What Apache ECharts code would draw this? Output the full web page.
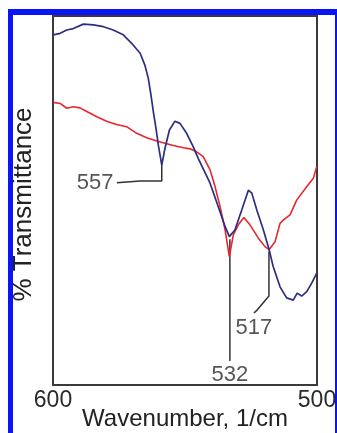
<!DOCTYPE html>
<html>
<head>
<meta charset="utf-8">
<script src="https://cdn.jsdelivr.net/npm/echarts@6/dist/echarts.min.js"></script>
<style>
html,body{margin:0;padding:0;background:#fff;overflow:hidden;}
#frame{position:absolute;left:8px;top:9px;width:333px;height:500px;box-sizing:border-box;border:6px solid #0a14f5;border-left-width:5px;}
#chart{position:absolute;left:0;top:0;width:337px;height:433px;}
</style>
</head>
<body>
<div id="frame"></div>
<div id="chart"></div>
<script>
// Wavenumber (1/cm) and % transmittance (relative units)
const blueX = [599.9,597.3,594.8,592.3,588.5,584.7,580.9,577.2,573.4,570.2,567.0,565.2,563.9,562.9,562.0,561.0,560.1,558.8,557.6,555.9,553.8,551.9,549.4,546.9,545.0,544.3,540.5,537.4,534.8,533.2,531.1,528.5,526.0,524.7,522.8,520.3,518.1,516.6,514.0,511.5,509.0,507.5,505.8,503.9,502.0,500.1];
const blueY = [94.9,95.3,96.2,96.6,97.8,97.6,97.1,96.2,94.9,92.6,89.9,86.7,83.1,78.6,74.1,69.6,65.0,59.6,64.1,69.1,71.5,70.9,68.2,64.6,61.4,61.0,54.7,48.3,42.9,40.2,42.0,47.4,52.8,52.0,47.4,42.0,36.6,32.1,26.6,23.6,23.0,24.9,24.1,25.3,27.6,30.3];
const redX = [599.9,597.3,594.8,592.3,589.8,587.2,583.4,579.7,575.9,572.1,568.3,564.5,560.7,557.6,554.4,550.6,548.1,545.6,543.1,540.5,538.6,536.7,534.8,533.2,531.7,529.8,527.7,525.4,522.2,519.7,518.1,515.9,514.0,512.8,510.2,507.7,503.9,501.4,500.1];
const redY = [76.6,76.3,75.0,75.4,75.1,74.1,72.7,71.5,70.6,70.0,68.2,67.0,66.1,65.5,64.9,64.3,64.0,63.2,61.9,58.3,53.7,48.3,42.0,34.8,40.7,43.4,45.4,43.4,39.8,37.5,36.7,38.8,43.8,44.7,46.1,50.1,53.7,56.0,59.2];
// peak annotations: leader line points and label text
const peak557X = [558.8,558.8,567.0,567.0,575.8];
const peak557Y = [59.6,55.3,55.3,54.8,54.8];
const peak532X = [533.0,533.0];
const peak532Y = [39.5,6.5];
const peak517X = [518.2,518.2,522.7,523.9];
const peak517Y = [36.2,24.1,20.3,19.5];
const peakLabels = ['557','532','517'];
const xTicks = [600,500];

function zip(xs, ys){ return xs.map((x,i)=>[x,ys[i]]); }
function leader(xs, ys){
  return {type:'line', data:zip(xs, ys), symbol:'none', lineStyle:{color:'#333', width:1.5}, z:1, silent:true};
}
const lbl = {fontSize:22, color:'#2a2a2a', fontFamily:'Liberation Sans'};
const ends = [
  {xs:peak557X, ys:peak557Y, pos:'left', dist:3},
  {xs:peak532X, ys:peak532Y, pos:'bottom', dist:2},
  {xs:peak517X, ys:peak517Y, pos:'bottom', dist:3}
];
const labelData = ends.map((e,i)=>({
  value:[e.xs[e.xs.length-1], e.ys[e.ys.length-1]],
  label:Object.assign({show:true, formatter:peakLabels[i], position:e.pos, distance:e.dist}, lbl)
}));
const chart = echarts.init(document.getElementById('chart'), null, {renderer:'canvas'});
chart.setOption({
  animation:false,
  backgroundColor:'transparent',
  grid:{left:53, right:20, top:16, bottom:48, containLabel:false, outerBoundsMode:'none',
    show:true, borderColor:'#3a3a3a', borderWidth:2, backgroundColor:'transparent'},
  xAxis:{type:'value', min:500, max:600, interval:100, inverse:true,
    axisLine:{show:false}, axisTick:{show:false}, splitLine:{show:false},
    axisLabel:{fontSize:23, color:'#2a2a2a', margin:4, fontFamily:'Liberation Sans', formatter:v=> xTicks.includes(v)? String(v):''},
    name:'Wavenumber, 1/cm', nameLocation:'middle', nameGap:22, nameMoveOverlap:false,
    nameTextStyle:{fontSize:24, color:'#222', fontFamily:'Liberation Sans'}},
  yAxis:{type:'value', min:0, max:100,
    axisLine:{show:false}, axisTick:{show:false}, splitLine:{show:false}, axisLabel:{show:false},
    name:'% Transmittance', nameLocation:'middle', nameGap:16, nameRotate:90, nameMoveOverlap:false,
    nameTextStyle:{fontSize:26, color:'#222', fontFamily:'Liberation Sans', padding:[0,8,0,0]}},
  series:[
    {type:'line', data:zip(redX, redY), symbol:'none', lineStyle:{color:'#e8262b', width:1.6}, z:3},
    {type:'line', data:zip(blueX, blueY), symbol:'none', lineStyle:{color:'#2c2e80', width:1.7}, z:4},
    leader(peak557X, peak557Y),
    leader(peak532X, peak532Y),
    leader(peak517X, peak517Y),
    {type:'scatter', data:labelData, symbolSize:1, itemStyle:{color:'rgba(0,0,0,0)'}, z:5, silent:true}
  ]
});
</script>
</body>
</html>
